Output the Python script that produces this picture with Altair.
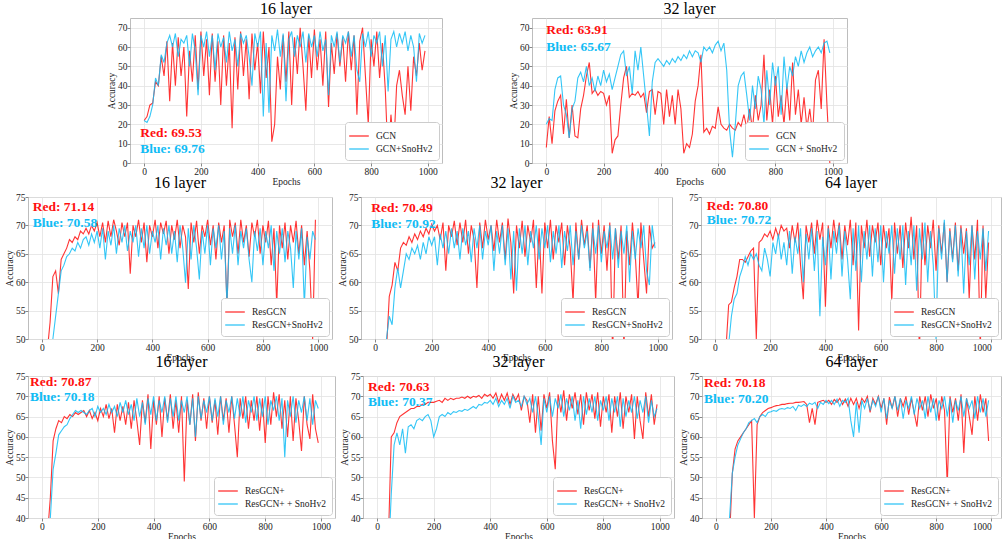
import altair as alt
import pandas as pd

SERIF = "Liberation Serif"
RED = "#ff1010"
BLUE = "#10bcf5"

EPOCHS = list(range(0, 1000, 10))

# ---- 16 layer GCN ----
A_r = [22, 24, 30, 31, 42, 40, 55, 45, 63, 32,
       62, 40, 65, 45, 60, 24, 58, 42, 66, 38,
       68, 45, 64, 35, 67, 42, 63, 30, 66, 40,
       62, 18, 65, 38, 68, 45, 64, 33, 67, 48,
       62, 36, 68, 44, 60, 11, 20, 55, 38, 66,
       42, 68, 30, 65, 46, 70, 50, 27, 66, 44,
       69, 48, 64, 40, 68, 29, 62, 46, 67, 50,
       65, 42, 68, 48, 66, 25, 63, 70, 45, 20,
       64, 50, 68, 44, 62, 38, 2, 25, 8, 40,
       48, 35, 25, 50, 27, 55, 45, 62, 48, 58]
A_b = [22, 21, 24, 30, 44, 40, 56, 52, 62, 66,
       60, 67, 55, 64, 62, 66, 50, 67, 58, 35,
       66, 60, 68, 55, 66, 48, 67, 60, 65, 52,
       68, 58, 64, 50, 67, 62, 66, 55, 40, 67,
       60, 68, 24, 62, 26, 66, 58, 69, 55, 67,
       32, 64, 68, 55, 66, 60, 68, 52, 67, 60,
       66, 55, 68, 58, 64, 35, 66, 60, 68, 52,
       66, 62, 68, 55, 66, 48, 42, 67, 60, 68,
       55, 66, 62, 68, 50, 66, 37, 64, 68, 60,
       67, 62, 68, 58, 66, 60, 42, 67, 62, 66]

# ---- 32 layer GCN ----
B_r = [8, 24, 10, 27, 32, 35, 15, 33, 13, 30,
       14, 13, 28, 35, 45, 52, 36, 38, 35, 37,
       36, 30, 35, 5, 12, 14, 30, 44, 50, 34,
       36, 35, 37, 34, 36, 26, 37, 38, 25, 37,
       36, 20, 38, 24, 35, 20, 38, 28, 5, 10,
       8, 15, 32, 40, 56, 16, 18, 15, 19, 18,
       29, 20, 18, 17, 20, 18, 17, 21, 19, 25,
       18, 28, 17, 35, 22, 30, 56, 22, 38, 20,
       45, 24, 35, 20, 40, 22, 52, 25, 38, 20,
       34, 18, 28, 15, 43, 48, 28, 64, 30, 0]
B_b = [20, 23, 22, 38, 44, 45, 30, 25, 13, 28,
       32, 44, 47, 42, 50, 40, 44, 37, 45, 40,
       48, 42, 46, 38, 44, 50, 56, 58, 45, 50,
       36, 58, 48, 60, 45, 30, 14, 42, 52, 54,
       52, 50, 53, 51, 54, 52, 55, 53, 56, 54,
       58, 55, 58, 57, 52, 60, 58, 60, 57, 61,
       63, 58, 62, 48, 17, 3, 20, 40, 45, 47,
       35, 22, 40, 28, 45, 38, 20, 48, 30, 52,
       40, 50, 25, 55, 38, 50, 45, 55, 50, 58,
       52, 57, 60, 55, 58, 60, 57, 62, 63, 57]

# ---- 16 layer ResGCN ----
C_r = [40, 42, 48, 53, 61, 62, 58, 64, 65, 66,
       67.5, 67, 68, 67.5, 69, 68.5, 69.5, 68.5, 70, 69,
       70.5, 68, 70.5, 67, 70.8, 68, 71, 69, 66.5, 70.5,
       68, 70.5, 61.5, 70, 68, 71, 67, 70.5, 63.5, 70,
       68, 71, 66, 70.5, 68.5, 70.8, 65, 70, 67.5, 71,
       66, 70, 68, 58.8, 70.5, 67, 70.8, 65, 70, 68,
       71, 66.5, 70, 64, 70.5, 67, 70, 55.8, 71, 68,
       70.5, 65, 71, 67, 70, 64.5, 70.5, 68, 71, 65,
       70, 67, 70.8, 63, 69.5, 56, 70, 66, 70.5, 64,
       70, 67, 70.8, 65, 70, 63, 69, 62, 50, 71]
C_b = [35, 38, 42, 46, 50, 54, 58, 62, 63, 64.5,
       65, 66, 65.5, 67, 66, 67.5, 68, 66.5, 68.5, 67,
       69, 66, 69.5, 64, 69, 66.5, 70, 65, 69.5, 67,
       70, 65.5, 69, 67, 70, 64.5, 69.5, 66, 70, 65,
       69, 67, 70, 64, 69.5, 66.5, 70, 65, 69, 63.5,
       70, 66, 59.9, 69.5, 64, 70, 66, 60.5, 69, 65,
       70, 63, 69.5, 66, 70, 64, 69, 56, 69.5, 65,
       70, 63, 69, 66, 69.5, 64, 60, 69, 65.5, 69.5,
       63, 69, 66, 70, 62, 69, 65, 69.5, 63.5, 69,
       66, 59, 69, 64, 69.5, 55.8, 68, 64, 69, 67.5]

# ---- 32 layer ResGCN ----
D_r = [30, 33, 38, 42, 48, 57.5, 59.5, 63.5, 62, 66,
       67, 66.5, 68, 67, 68.5, 67.5, 69, 68, 69.5, 68.5,
       70.2, 69, 70, 67.5, 70.5, 62, 70, 68, 70.8, 66.5,
       70.5, 67, 71, 65, 70, 67.5, 59, 70.5, 66, 71,
       67.5, 70, 65.5, 71, 67, 70.5, 64, 71.2, 67, 58,
       70, 66, 70.8, 64.5, 70, 67, 71, 59, 69.5, 58,
       70.5, 66, 71, 64, 70, 67, 70.5, 63, 70, 66,
       56.5, 70.5, 64, 71, 66.5, 70, 62.5, 70.5, 56.5, 71,
       65, 70, 62, 70.5, 47, 69.5, 64, 70, 48, 69,
       63, 70.5, 65, 55.5, 70.5, 64, 58, 70, 66, 67]
D_b = [30, 34, 38, 44, 50, 54, 52.5, 59, 62.5, 59,
       62, 65, 64, 66, 65, 66.5, 64, 67, 65, 68,
       66.5, 68, 63, 68.5, 66, 69, 65, 69.5, 66, 69,
       64, 69.5, 66.5, 69, 63.5, 69.5, 66, 70, 64, 69,
       66.5, 70, 62, 69, 65, 70, 63, 69.5, 60.5, 69,
       58.5, 69.5, 65, 70, 63, 69, 66, 70, 64, 69.5,
       66, 70, 63.5, 69, 65, 70, 62.5, 69, 65.5, 70,
       63, 69, 64, 70, 66, 69, 62, 69.5, 65, 70,
       63.5, 69, 66, 70, 64, 69.5, 62.5, 69, 65, 70,
       60, 69, 64, 69.5, 66, 70, 62, 59.5, 70, 66]

# ---- 64 layer ResGCN ----
E_r = [30, 35, 40, 44, 48, 56, 56.5, 59, 61, 64,
       64, 63.5, 64.5, 65.5, 66, 50, 67, 67.5, 68.5, 68,
       69, 67.5, 69.5, 68, 70, 69, 69.5, 66, 70, 67,
       70.5, 63, 57, 70, 67, 70.5, 65, 71, 67.5, 70.5,
       55.7, 70, 66, 71, 67, 70.5, 64, 70, 66.5, 71,
       63, 70.5, 51.5, 70, 66, 71, 64.5, 70, 67, 70.5,
       63, 70, 66, 69.5, 56.5, 70.5, 65, 70, 62.5, 70.5,
       66, 71.5, 64, 70, 47, 70.5, 63, 70, 66, 71,
       62, 70, 65, 70.5, 60, 69.5, 64, 70.5, 62, 70,
       65, 69.5, 57, 70, 64, 71, 48, 70, 57, 67]
E_b = [30, 35, 40, 44, 47, 49, 54, 57, 58, 61,
       62.5, 64.5, 63, 65, 64, 65, 63, 62, 66, 64,
       61, 67, 65, 68.5, 64, 67, 63, 69, 61.5, 68,
       65, 69.5, 60, 68.5, 64, 69.5, 62, 69, 54, 68,
       63, 69.5, 60.5, 69, 65, 70, 61, 69, 64, 57,
       69.5, 62, 70, 60, 69, 64, 70, 61, 69.5, 63.5,
       70, 60, 69, 65, 70, 61.5, 69.5, 64, 70, 59.5,
       69, 63, 70, 58.5, 69.5, 64, 70.5, 60, 69, 63,
       50, 69.5, 64, 71, 60, 69, 63.5, 70, 61, 69.5,
       58, 69, 63, 70, 60.5, 69, 64, 69.5, 62, 69]

# ---- 16 layer ResGCN+ ----
F_r = [30, 32, 36, 45, 59, 62, 64, 63.5, 65, 64.5,
       65.5, 65, 66, 65.5, 66, 66.5, 65, 66.5, 64.5, 66,
       64, 67, 65, 68, 64.5, 67, 61, 68, 64, 67.5,
       63, 68.5, 62, 69, 64, 58, 69, 63.5, 70.5, 57,
       69, 63, 70, 60, 69.5, 64, 70.5, 62, 69, 61,
       70, 49, 69, 63, 70.5, 59, 71, 64, 69.5, 62,
       70, 63.5, 69, 60.5, 70, 64, 69.5, 61, 70, 63,
       55, 69.5, 64.5, 70, 62, 69, 64, 70, 61.5, 69.5,
       58.5, 70, 63, 71, 65, 70.5, 62, 69, 60, 70,
       59, 69.5, 64, 56.5, 70, 63, 59.5, 70.5, 62, 58.5]
F_b = [25, 28, 32, 40, 52, 56, 60.5, 61.5, 62.5, 63,
       64.5, 65.5, 66.5, 66, 66.5, 66, 65.5, 66.5, 67, 65,
       67.5, 66, 67, 65.5, 68, 66, 67.5, 65, 68.5, 66,
       69, 65.5, 68, 64, 69.5, 65, 68.5, 63, 69.5, 65.5,
       70, 64, 69, 66, 70, 63.5, 69.5, 65, 70, 64,
       69, 66, 70, 63, 69.5, 60, 70, 64.5, 69, 66,
       70, 64, 69.5, 65, 70, 63, 69, 66, 70, 64.5,
       69.5, 65, 70, 63.5, 69, 66, 70, 64, 69.5, 65,
       70, 63, 69, 66.5, 70, 64, 69.5, 55, 69, 65,
       70, 63.5, 69, 66, 70, 64, 69.5, 63, 69, 67]

# ---- 32 layer ResGCN+ ----
G_r = [20, 22, 26, 30, 35, 60, 61, 63.5, 65, 65.5,
       66, 66.5, 67, 67, 67.5, 67.5, 68, 68, 68.5, 68.5,
       68.5, 68.8, 69, 68.5, 69.5, 69, 69.5, 69.2, 69.5, 69.5,
       69.8, 69.5, 70, 69.5, 70, 69.8, 70.2, 69.5, 70.5, 70,
       70.5, 69.5, 70.8, 68.5, 70.5, 69, 70.8, 68, 70.5, 69,
       70.5, 66.5, 70, 69, 63.5, 70.5, 61, 70, 61.5, 70.5,
       67, 71, 59, 52, 70.5, 66, 71.5, 64, 70.5, 67,
       71, 65.5, 70.5, 63, 71, 66.5, 70.5, 64.5, 71, 62.5,
       70, 66, 70.5, 61, 70, 65, 71, 62, 70, 66,
       70.5, 59.5, 70, 64, 59.5, 71, 65, 70.5, 63, 68]
G_b = [15, 18, 22, 26, 30, 46, 58, 61, 58, 62,
       56, 62.5, 63, 62, 64, 64.5, 64, 65, 65.5, 64,
       60, 62, 65, 65.5, 65, 66, 65.5, 66.2, 66, 66.5,
       66.3, 66.8, 66.5, 67, 67.5, 67, 68, 67.8, 68.5, 68.3,
       69, 68, 69.5, 67.5, 69, 68, 69.5, 67, 70, 68.5,
       69, 67.5, 70, 68, 69.5, 66, 70, 65, 58, 69.5,
       66, 70, 65, 69.5, 67, 70.5, 65, 69.5, 66.5, 70,
       64, 69, 62, 70, 65.5, 69.5, 66, 70, 64, 69,
       66.5, 70, 64, 69.5, 66, 70, 62.5, 69.5, 65, 69,
       66, 70, 64.5, 69, 66, 70, 63.5, 69, 65, 67]

# ---- 64 layer ResGCN+ ----
H_r = [20, 22, 25, 28, 31, 35, 51, 57, 59, 60,
       61, 62, 63, 64, 40, 63, 65, 66, 66.5, 67,
       67.2, 67.5, 67.7, 67.8, 68, 68, 68.2, 68.3, 68.3, 68.5,
       68.5, 68.6, 68.7, 68, 63.5, 67, 63, 68.5, 68.8, 69,
       68.5, 69, 68, 69.2, 68.5, 69.5, 68, 69.3, 67.5, 69.5,
       68, 69.5, 67, 69.5, 68.5, 70, 66, 69.5, 68, 70,
       67, 69.5, 63, 69.8, 67, 70, 65, 69.5, 67.5, 70,
       65.5, 69.5, 66, 62.5, 70, 66.5, 70, 65, 70.5, 67,
       69.5, 64, 70, 66.5, 48, 70, 66, 69.5, 64, 70.5,
       56, 69.5, 65, 60.5, 70, 64, 70.5, 66, 69.5, 59]
H_b = [20, 22, 25, 28, 32, 40, 51, 55, 58, 59.5,
       61, 62, 63.5, 64, 64.5, 63.5, 65, 65.5, 65, 66,
       66.2, 66.5, 66.3, 66.8, 67, 66.8, 67.2, 67, 67.5, 66.5,
       67.8, 67.5, 68, 67.5, 68.3, 68, 68.5, 67, 68.5, 68,
       69, 68.2, 69, 68, 69.3, 67.5, 69, 68.5, 69.5, 64,
       60, 68.5, 61, 69, 67, 69.5, 66.5, 69, 67.5, 70,
       66, 69.5, 64.5, 69, 67, 70, 66.5, 69.5, 64.5, 69,
       67, 70, 65.5, 69.5, 67, 69, 64.5, 70, 66, 69.5,
       64, 69, 67, 70, 65, 69.5, 63.5, 69, 66.5, 70,
       65, 69.5, 67, 69, 64.5, 70, 66, 69.5, 65, 69]

XTICKS = [0, 200, 400, 600, 800, 1000]
Y_TOP = [0, 10, 20, 30, 40, 50, 60, 70]
Y_MID = [50, 55, 60, 65, 70, 75]
Y_BOT = [40, 45, 50, 55, 60, 65, 70, 75]


def panel(title, names, red, blue, red_txt, blue_txt, ydom, yticks,
          width, height, xdom, tx, ty_red, ty_blue, flush=False):
    df = pd.DataFrame({
        "Epochs": EPOCHS + EPOCHS,
        "Accuracy": red + blue,
        "Model": [names[0]] * len(red) + [names[1]] * len(blue),
    })
    x = alt.X("Epochs:Q",
              scale=alt.Scale(domain=xdom, nice=False, zero=False),
              axis=alt.Axis(values=XTICKS, title="Epochs", format="d",
                            labelOverlap=False,
                            labelFlush=12 if flush else False))
    y = alt.Y("Accuracy:Q",
              scale=alt.Scale(domain=ydom, nice=False, zero=False),
              axis=alt.Axis(values=yticks, title="Accuracy", format="d",
                            labelOverlap=False, labelFlush=False))
    lines = alt.Chart(df).mark_line(strokeWidth=1.1, clip=True, opacity=0.85).encode(
        x=x, y=y,
        color=alt.Color("Model:N",
                        scale=alt.Scale(domain=names, range=[RED, BLUE]),
                        sort=names, title=None,
                        legend=alt.Legend(orient="bottom-right")),
    )
    txt = pd.DataFrame({"Epochs": [tx], "Accuracy": [ty_red], "t": [red_txt]})
    txt2 = pd.DataFrame({"Epochs": [tx], "Accuracy": [ty_blue], "t": [blue_txt]})
    t1 = alt.Chart(txt).mark_text(align="left", baseline="middle", font=SERIF,
                                   fontSize=13.5, fontWeight="bold", color=RED).encode(
        x=x, y=y, text="t:N")
    t2 = alt.Chart(txt2).mark_text(align="left", baseline="middle", font=SERIF,
                                    fontSize=13.5, fontWeight="bold", color=BLUE).encode(
        x=x, y=y, text="t:N")
    return alt.layer(lines, t1, t2).properties(
        width=width, height=height,
        title=alt.TitleParams(title, font=SERIF, fontSize=16, fontWeight="normal",
                              color="black", offset=1, anchor="middle"),
    )


spacer = alt.Chart(pd.DataFrame({"v": [0]})).mark_point(opacity=0).encode(
    x=alt.X("v:Q", axis=None), y=alt.Y("v:Q", axis=None)
).properties(width=12, height=145, view=alt.ViewBackground(stroke=None))

pA = panel("16 layer", ["GCN", "GCN+SnoHv2"], A_r, A_b, "Red: 69.53", "Blue: 69.76",
           [0, 75], Y_TOP, 312, 145, [-50, 1050], -14, 15.6, 7.3)
pB = panel("32 layer", ["GCN", "GCN + SnoHv2"], B_r, B_b, "Red: 63.91", "Blue: 65.67",
           [0, 75], Y_TOP, 315, 145, [-50, 1050], 0, 68.6, 59.8)
pC = panel("16 layer", ["ResGCN", "ResGCN+SnoHv2"], C_r, C_b, "Red: 71.14", "Blue: 70.58",
           [50, 75], Y_MID, 304, 142, [-50, 1050], -33, 73.2, 70.4)
pD = panel("32 layer", ["ResGCN", "ResGCN+SnoHv2"], D_r, D_b, "Red: 70.49", "Blue: 70.92",
           [50, 75], Y_MID, 311, 142, [-50, 1050], -14, 73.1, 70.3)
pE = panel("64 layer", ["ResGCN", "ResGCN+SnoHv2"], E_r, E_b, "Red: 70.80", "Blue: 70.72",
           [50, 75], Y_MID, 300, 142, [-50, 1035], -29, 73.5, 71.0, flush=True)
pF = panel("16 layer", ["ResGCN+", "ResGCN+ + SnoHv2"], F_r, F_b, "Red: 70.87", "Blue: 70.18",
           [40, 75], Y_BOT, 307, 142, [-50, 1050], -43, 73.5, 69.8)
pG = panel("32 layer", ["ResGCN+", "ResGCN+ + SnoHv2"], G_r, G_b, "Red: 70.63", "Blue: 70.37",
           [40, 75], Y_BOT, 311, 142, [-50, 1050], -32, 72.4, 68.6)
pH = panel("64 layer", ["ResGCN+", "ResGCN+ + SnoHv2"], H_r, H_b, "Red: 70.18", "Blue: 70.20",
           [40, 75], Y_BOT, 299, 142, [-50, 1035], -43, 73.3, 69.4, flush=True)


def row(charts, spacing):
    return alt.hconcat(*charts, spacing=spacing, bounds="flush").resolve_scale(
        x="independent", y="independent", color="independent"
    ).resolve_legend(color="independent")


lower = alt.vconcat(
    row([pC, pD, pE], 29),
    row([pF, pG, pH], 28),
    spacing=-10,
).resolve_scale(
    x="independent", y="independent", color="independent"
).resolve_legend(color="independent")

chart = alt.vconcat(
    row([spacer, pA, pB], 90),
    lower,
    spacing=-13,
).resolve_scale(
    x="independent", y="independent", color="independent"
).resolve_legend(color="independent").properties(
    padding={"left": 4, "top": 0, "right": 0, "bottom": 0},
    background="white",
).configure_view(
    stroke="#bdbdbd", strokeWidth=1
).configure_axis(
    labelFont=SERIF, labelFontSize=9.5, labelColor="#222222",
    titleFont=SERIF, titleFontSize=9.5, titleFontWeight="normal", titleColor="#222222",
    gridColor="#e2e2e2", gridWidth=0.8, domain=False,
    tickColor="#888888", tickSize=3, labelPadding=0, titlePadding=1,
).configure_legend(
    offset=3, fillColor="white", strokeColor="#cccccc", padding=6, cornerRadius=3,
    labelFont=SERIF, labelFontSize=9.5, labelColor="#222222", labelLimit=300,
    symbolType="M-1.4,0L1.4,0", symbolSize=196, symbolStrokeWidth=1.3, rowPadding=0,
    labelOffset=9,
)

chart.save("out.html", embed_options={"renderer": "svg", "actions": False})
